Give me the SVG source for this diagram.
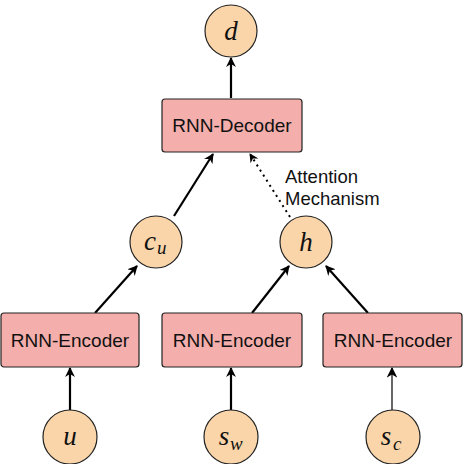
<svg xmlns="http://www.w3.org/2000/svg" width="464" height="464" viewBox="0 0 464 464">
<style>
.n{fill:#F9D5A9;stroke:#222;stroke-width:1.2}
.b{fill:#F4AEAB;stroke:#222;stroke-width:1.2}
.t{font-family:"Liberation Sans",Arial,sans-serif;font-size:19px;fill:#111;text-anchor:middle}
.m{font-family:"Liberation Serif","DejaVu Serif",serif;font-style:italic;font-size:27px;fill:#111;text-anchor:middle}
.s{font-family:"Liberation Serif","DejaVu Serif",serif;font-style:italic;font-size:19px;fill:#111}
.e{stroke:#000;stroke-width:2.2;fill:none}
.l{font-family:"Liberation Sans",Arial,sans-serif;font-size:18.5px;fill:#111}
</style>
<defs>
<marker id="a" viewBox="0 0 10 10" refX="9" refY="5" markerWidth="4.5" markerHeight="4.5" orient="auto" markerUnits="strokeWidth">
<path d="M0,0 L10,5 L0,10 L3,5 z" fill="#000"/>
</marker>
<marker id="a2" viewBox="0 0 10 10" refX="9" refY="5" markerWidth="9" markerHeight="9" orient="auto" markerUnits="strokeWidth">
<path d="M0,0 L10,5 L0,10 L3,5 z" fill="#000"/>
</marker>
</defs>
<g id="connectors">
<line class="e" x1="231" y1="98" x2="231" y2="58" marker-end="url(#a)"/>
<line class="e" x1="174" y1="216" x2="213" y2="154" marker-end="url(#a)"/>
<line stroke="#000" stroke-width="2" stroke-dasharray="2,4" x1="290" y1="217" x2="250" y2="154" marker-end="url(#a)"/>
<line class="e" x1="95" y1="313" x2="137" y2="266" marker-end="url(#a)"/>
<line class="e" x1="252" y1="313" x2="289" y2="266" marker-end="url(#a)"/>
<line class="e" x1="368" y1="313" x2="326" y2="266" marker-end="url(#a)"/>
<line class="e" x1="70" y1="410" x2="70" y2="368" marker-end="url(#a)"/>
<line class="e" x1="231" y1="410" x2="231" y2="368" marker-end="url(#a)"/>
<line stroke="#000" stroke-width="1.2" x1="392" y1="410" x2="392" y2="368" marker-end="url(#a2)"/>
</g>
<g id="label-attention">
<text class="l" x="285" y="183">Attention</text>
<text class="l" x="285" y="205">Mechanism</text>
</g>
<g id="node-d"><circle class="n" cx="231" cy="31" r="26"/><text class="m" x="231" y="40">d</text></g>
<g id="node-decoder"><rect class="b" x="162" y="99" width="140" height="53" rx="3"/><text class="t" x="232" y="132">RNN-Decoder</text></g>
<g id="node-cu"><circle class="n" cx="156" cy="242" r="26"/><text class="m" x="150" y="250">c</text><text class="s" x="157" y="254">u</text></g>
<g id="node-h"><circle class="n" cx="306" cy="242" r="26"/><text class="m" x="306" y="251">h</text></g>
<g id="node-enc1"><rect class="b" x="1" y="313" width="138" height="54" rx="3"/><text class="t" x="70" y="347">RNN-Encoder</text></g>
<g id="node-enc2"><rect class="b" x="162" y="313" width="140" height="54" rx="3"/><text class="t" x="232" y="347">RNN-Encoder</text></g>
<g id="node-enc3"><rect class="b" x="323" y="313" width="139" height="54" rx="3"/><text class="t" x="393" y="347">RNN-Encoder</text></g>
<g id="node-u"><circle class="n" cx="70" cy="437" r="27"/><text class="m" x="70" y="445">u</text></g>
<g id="node-sw"><circle class="n" cx="231" cy="437" r="27"/><text class="m" x="224" y="445">s</text><text class="s" x="230" y="450">w</text></g>
<g id="node-sc"><circle class="n" cx="393" cy="437" r="27"/><text class="m" x="386" y="445">s</text><text class="s" x="393" y="450">c</text></g>
</svg>
